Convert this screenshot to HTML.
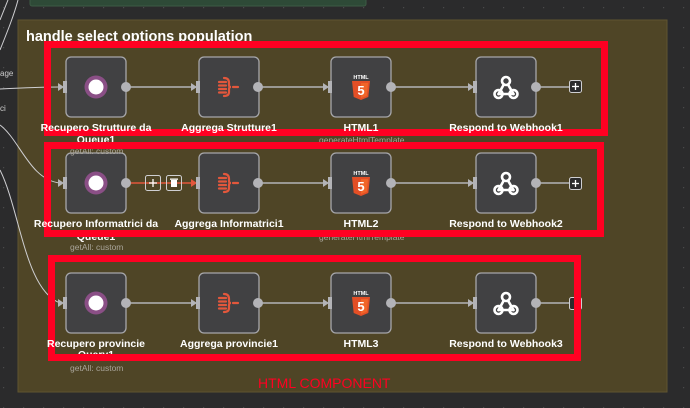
<!DOCTYPE html>
<html><head><meta charset="utf-8"><style>
html,body{margin:0;padding:0;background:#2b2b2c;width:690px;height:408px;overflow:hidden}
svg{display:block}
text{font-family:"Liberation Sans",sans-serif}
</style></head><body>
<svg width="690" height="408" viewBox="0 0 690 408" xmlns="http://www.w3.org/2000/svg">
<defs>
<pattern id="dots" width="20" height="20" patternUnits="userSpaceOnUse" x="3" y="7">
<rect x="0" y="0" width="1.2" height="1.2" fill="#4a4a4c"/>
</pattern>
<g id="ring"><circle r="11.5" fill="#8a4f86"/><circle r="7.5" fill="#fff"/></g>
<g id="agg" stroke="#e2573c" stroke-width="2.2" fill="none" stroke-linecap="round">
<line x1="-10" y1="-5" x2="-3" y2="-5"/><line x1="-10" y1="-1.5" x2="-3" y2="-1.5"/><line x1="-10" y1="2" x2="-3" y2="2"/><line x1="-10" y1="5.5" x2="-3" y2="5.5"/>
<path d="M-5,-9 Q0,-9 0,-4 L0,-2 Q0,0 2,0 Q0,0 0,2 L0,5 Q0,9 -5,9"/>
<line x1="4" y1="0" x2="9" y2="0"/>
</g>
<g id="h5">
<text x="0" y="-9" font-size="5.5" font-weight="bold" fill="#fff" text-anchor="middle">HTML</text>
<path d="M-9,-7 L9,-7 L7.3,9 L0,12 L-7.3,9 Z" fill="#e34f26"/>
<path d="M0,-5 L7,-5 L5.8,8 L0,10 Z" fill="#f06529"/>
<text x="0" y="7" font-size="13" font-weight="bold" fill="#fff" text-anchor="middle">5</text>
</g>
<g id="wh" stroke="#fff" stroke-width="2.6" fill="none" stroke-linecap="round">
<circle cx="0" cy="-7" r="4"/><circle cx="-7.5" cy="6" r="4"/><circle cx="7.5" cy="6" r="4"/>
<path d="M-2.2,-3.5 L-7.5,6"/><path d="M2,-3.5 L7.5,6"/><path d="M-7.5,6 L7.5,6"/>
</g>
<g id="node"><rect x="0" y="0" width="60" height="60" rx="5" fill="#414143" stroke="#a7a7ab" stroke-width="1.3"/></g>
</defs>
<rect width="690" height="408" fill="url(#dots)"/>
<rect x="30" y="-4" width="336" height="10" rx="2" fill="#2e4a37" stroke="#3c5b44"/>
<rect x="18" y="20" width="649" height="372" fill="#4f4526" stroke="#5f5430" stroke-width="1"/>
<text x="26" y="41" font-size="14.5" font-weight="bold" fill="#fff">handle select options population</text>
<g stroke="#cfcfd2" stroke-width="1" fill="none">
<path d="M0,89 C20,88 40,87 60,87"/>
<path d="M0,125 C20,140 30,180 60,183"/>
<path d="M0,170 C20,210 25,290 60,303"/>
<path d="M0,50 C8,30 14,15 18,0"/>
<path d="M0,20 C4,10 6,5 8,0"/>
</g>
<text x="0" y="76" font-size="8" fill="#ccc">age</text>
<text x="0" y="111" font-size="8" fill="#ccc">ci</text>
<g stroke="#b3b3b7" stroke-width="1.4" fill="none">
<line x1="126" y1="87" x2="196" y2="87"/><line x1="258" y1="87" x2="328" y2="87"/><line x1="391" y1="87" x2="473" y2="87"/><line x1="536" y1="87" x2="570" y2="87"/>
<line x1="258" y1="183" x2="328" y2="183"/><line x1="391" y1="183" x2="473" y2="183"/><line x1="536" y1="183" x2="570" y2="183"/>
<line x1="126" y1="303" x2="196" y2="303"/><line x1="258" y1="303" x2="328" y2="303"/><line x1="391" y1="303" x2="473" y2="303"/><line x1="536" y1="303" x2="570" y2="303"/>
</g>
<line x1="126" y1="183" x2="196" y2="183" stroke="#e2573c" stroke-width="1.4"/>
<g fill="#b3b3b7">
<path d="M58,83 L64,87 L58,91Z"/><path d="M191,83 L197,87 L191,91Z"/><path d="M323,83 L329,87 L323,91Z"/><path d="M468,83 L474,87 L468,91Z"/>
<path d="M58,179 L64,183 L58,187Z"/><path d="M323,179 L329,183 L323,187Z"/><path d="M468,179 L474,183 L468,187Z"/>
<path d="M58,299 L64,303 L58,307Z"/><path d="M191,299 L197,303 L191,307Z"/><path d="M323,299 L329,303 L323,307Z"/><path d="M468,299 L474,303 L468,307Z"/>
</g>
<path d="M191,179 L197,183 L191,187Z" fill="#e2573c"/>
<use href="#node" x="66" y="57"/><use href="#node" x="199" y="57"/><use href="#node" x="331" y="57"/><use href="#node" x="476" y="57"/>
<use href="#node" x="66" y="153"/><use href="#node" x="199" y="153"/><use href="#node" x="331" y="153"/><use href="#node" x="476" y="153"/>
<use href="#node" x="66" y="273"/><use href="#node" x="199" y="273"/><use href="#node" x="331" y="273"/><use href="#node" x="476" y="273"/>
<g fill="#b3b3b7">
<rect x="63" y="81" width="4" height="12"/><rect x="196" y="81" width="4" height="12"/><rect x="328" y="81" width="4" height="12"/><rect x="473" y="81" width="4" height="12"/>
<rect x="63" y="177" width="4" height="12"/><rect x="196" y="177" width="4" height="12"/><rect x="328" y="177" width="4" height="12"/><rect x="473" y="177" width="4" height="12"/>
<rect x="63" y="297" width="4" height="12"/><rect x="196" y="297" width="4" height="12"/><rect x="328" y="297" width="4" height="12"/><rect x="473" y="297" width="4" height="12"/>
<circle cx="126" cy="87" r="5"/><circle cx="258" cy="87" r="5"/><circle cx="391" cy="87" r="5"/><circle cx="536" cy="87" r="5"/>
<circle cx="126" cy="183" r="5"/><circle cx="258" cy="183" r="5"/><circle cx="391" cy="183" r="5"/><circle cx="536" cy="183" r="5"/>
<circle cx="126" cy="303" r="5"/><circle cx="258" cy="303" r="5"/><circle cx="391" cy="303" r="5"/><circle cx="536" cy="303" r="5"/>
</g>
<use href="#ring" x="96" y="87"/><use href="#ring" x="96" y="183"/><use href="#ring" x="96" y="303"/>
<use href="#agg" x="229" y="87"/><use href="#agg" x="229" y="183"/><use href="#agg" x="229" y="303"/>
<use href="#h5" x="361" y="88"/><use href="#h5" x="361" y="184"/><use href="#h5" x="361" y="304"/>
<use href="#wh" x="506" y="88"/><use href="#wh" x="506" y="184"/><use href="#wh" x="506" y="304"/>
<g stroke="#cfcfd2" stroke-width="1" fill="#2b2b2c">
<rect x="569.5" y="80.5" width="12" height="12" rx="2"/><rect x="569.5" y="177.5" width="12" height="12" rx="2"/><rect x="569.5" y="297.5" width="12" height="12" rx="2"/>
<rect x="145.5" y="175.5" width="15" height="15" rx="2" fill="none"/><rect x="166.5" y="175.5" width="15" height="15" rx="2" fill="none"/>
</g>
<g stroke="#fff" stroke-width="1.3">
<line x1="572" y1="86.5" x2="579" y2="86.5"/><line x1="575.5" y1="83" x2="575.5" y2="90"/>
<line x1="572" y1="183.5" x2="579" y2="183.5"/><line x1="575.5" y1="180" x2="575.5" y2="187"/>
<line x1="149" y1="183" x2="157" y2="183"/><line x1="153" y1="179" x2="153" y2="187"/>
</g>
<rect x="171" y="180" width="6" height="7" fill="#fff"/><rect x="170" y="178.5" width="8" height="1.3" fill="#fff"/>
<g font-size="8.5" fill="#a9a59a">
<text x="70" y="154">getAll: custom</text>
<text x="319" y="143">generateHtmlTemplate</text>
<text x="70" y="250">getAll: custom</text>
<text x="319" y="240">generateHtmlTemplate</text>
<text x="70" y="371">getAll: custom</text>
</g>
<g font-size="10.5" font-weight="bold" fill="#fff" text-anchor="middle">
<text x="96" y="143">Queue1</text>
<text x="96" y="240">Queue1</text>
<text x="96" y="358">Query1</text>
</g>
<g fill="none" stroke="#ff0022" stroke-width="7">
<rect x="47.5" y="44.5" width="557" height="88"/>
<rect x="47.5" y="145.5" width="553" height="88"/>
<rect x="51.5" y="258.5" width="526" height="99"/>
</g>
<g font-size="10.5" font-weight="bold" fill="#fff" text-anchor="middle">
<text x="96" y="131">Recupero Strutture da</text>
<text x="229" y="131">Aggrega Strutture1</text>
<text x="361" y="131">HTML1</text>
<text x="506" y="131">Respond to Webhook1</text>
<text x="96" y="227">Recupero Informatrici da</text>
<text x="229" y="227">Aggrega Informatrici1</text>
<text x="361" y="227">HTML2</text>
<text x="506" y="227">Respond to Webhook2</text>
<text x="96" y="347">Recupero provincie</text>
<text x="229" y="347">Aggrega provincie1</text>
<text x="361" y="347">HTML3</text>
<text x="506" y="347">Respond to Webhook3</text>
</g>
<text x="258" y="388" font-size="14" fill="#ff0022">HTML COMPONENT</text>
</svg>
</body></html>
